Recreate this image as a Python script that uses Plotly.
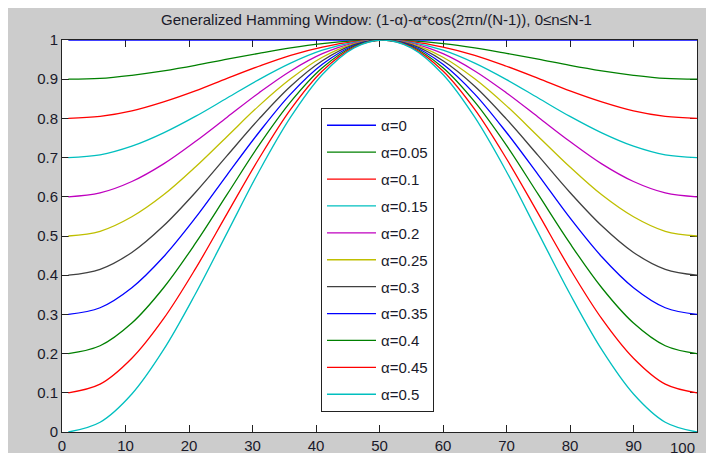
import plotly.graph_objects as go

# sample positions (n+1), window length 100
x_pos = [1, 6, 11, 16, 21, 26, 31, 36, 41, 46, 50.5, 55, 60, 65, 70, 75, 80, 85, 90, 95, 100]

alpha_labels = ["α=0", "α=0.05", "α=0.1", "α=0.15", "α=0.2", "α=0.25",
                "α=0.3", "α=0.35", "α=0.4", "α=0.45", "α=0.5"]

w_a000 = [1.000] * 21
w_a005 = [0.900, 0.902, 0.910, 0.921, 0.935, 0.951, 0.966, 0.980, 0.991, 0.998, 1.000,
          0.998, 0.991, 0.980, 0.966, 0.951, 0.935, 0.921, 0.910, 0.902, 0.900]
w_a010 = [0.800, 0.805, 0.819, 0.842, 0.870, 0.902, 0.933, 0.961, 0.982, 0.996, 1.000,
          0.996, 0.982, 0.961, 0.933, 0.902, 0.870, 0.842, 0.819, 0.805, 0.800]
w_a015 = [0.700, 0.707, 0.729, 0.763, 0.805, 0.852, 0.899, 0.941, 0.974, 0.994, 1.000,
          0.994, 0.974, 0.941, 0.899, 0.852, 0.805, 0.763, 0.729, 0.707, 0.700]
w_a020 = [0.600, 0.610, 0.639, 0.684, 0.741, 0.803, 0.865, 0.921, 0.965, 0.992, 1.000,
          0.992, 0.965, 0.921, 0.865, 0.803, 0.741, 0.684, 0.639, 0.610, 0.600]
w_a025 = [0.500, 0.512, 0.549, 0.605, 0.676, 0.754, 0.832, 0.901, 0.956, 0.990, 1.000,
          0.990, 0.956, 0.901, 0.832, 0.754, 0.676, 0.605, 0.549, 0.512, 0.500]
w_a030 = [0.400, 0.415, 0.458, 0.526, 0.611, 0.705, 0.798, 0.882, 0.947, 0.988, 1.000,
          0.988, 0.947, 0.882, 0.798, 0.705, 0.611, 0.526, 0.458, 0.415, 0.400]
w_a035 = [0.300, 0.317, 0.368, 0.447, 0.546, 0.656, 0.764, 0.862, 0.938, 0.986, 1.000,
          0.986, 0.938, 0.862, 0.764, 0.656, 0.546, 0.447, 0.368, 0.317, 0.300]
w_a040 = [0.200, 0.220, 0.278, 0.368, 0.481, 0.606, 0.731, 0.842, 0.929, 0.984, 1.000,
          0.984, 0.929, 0.842, 0.731, 0.606, 0.481, 0.368, 0.278, 0.220, 0.200]
w_a045 = [0.100, 0.122, 0.188, 0.289, 0.416, 0.557, 0.697, 0.823, 0.921, 0.982, 1.000,
          0.982, 0.921, 0.823, 0.697, 0.557, 0.416, 0.289, 0.188, 0.122, 0.100]
w_a050 = [0.000, 0.025, 0.097, 0.210, 0.352, 0.508, 0.664, 0.803, 0.912, 0.980, 1.000,
          0.980, 0.912, 0.803, 0.664, 0.508, 0.352, 0.210, 0.097, 0.025, 0.000]

series = [w_a000, w_a005, w_a010, w_a015, w_a020, w_a025,
          w_a030, w_a035, w_a040, w_a045, w_a050]

x_ticks = [0, 10, 20, 30, 40, 50, 60, 70, 80, 90, 100]
x_tick_text = ["0", "10", "20", "30", "40", "50", "60", "70", "80", "90", ""]
x_last_label = "100"
y_ticks = [0, 0.1, 0.2, 0.3, 0.4, 0.5, 0.6, 0.7, 0.8, 0.9, 1]
y_tick_text = ["0", "0.1", "0.2", "0.3", "0.4", "0.5", "0.6", "0.7", "0.8", "0.9", "1"]

colors = ["#0000ff", "#008000", "#ff0000", "#00bfbf", "#bf00bf", "#bfbf00",
          "#404040", "#0000ff", "#008000", "#ff0000", "#00bfbf"]

FONT = "Liberation Sans, Arial, sans-serif"
TXT = "#1a1a2a"

fig = go.Figure()
for i, (lab, ys) in enumerate(zip(alpha_labels, series)):
    fig.add_trace(go.Scatter(
        x=x_pos, y=ys, name=lab, mode="lines",
        line=dict(color=colors[i], width=1.3, shape="spline"),
        legendgroup=lab,
    ))

# the page body adds an 8px white border around the figure
OFF = 8
W, H = 714 - 2 * OFF, 461 - 2 * OFF
L, T = 62 - OFF, 40 - OFF
R, B = (714 - OFF) - 697, (461 - OFF) - 432
pw, ph = W - L - R, H - T - B

# last x tick label, kept inside the figure edge
fig.add_annotation(x=x_ticks[-1], xref="x", y=0, yref="paper",
                   text=x_last_label, showarrow=False,
                   xanchor="right", yanchor="top", xshift=0, yshift=-5,
                   font=dict(family=FONT, size=15, color=TXT))

fig.update_layout(
    width=W, height=H,
    margin=dict(l=L, r=R, t=T, b=B, pad=0),
    paper_bgcolor="#cccccc",
    plot_bgcolor="white",
    font=dict(family=FONT, size=15, color=TXT),
    showlegend=True,
    title=dict(
        text="Generalized Hamming Window: (1-α)-α*cos(2πn/(N-1)), 0≤n≤N-1",
        x=(376.5 - 62) / pw, xref="paper", xanchor="center",
        y=1 - (20 - OFF) / H, yref="container", yanchor="middle",
        font=dict(family=FONT, size=15, color=TXT),
    ),
    legend=dict(
        x=(321 - 62) / pw, y=(432 - 108) / ph, xanchor="left", yanchor="top",
        bgcolor="white", bordercolor="#222222", borderwidth=1,
        font=dict(family=FONT, size=15, color=TXT),
        tracegroupgap=4.4, itemwidth=49,
    ),
    xaxis=dict(
        range=[0, 100], tickvals=x_ticks, ticktext=x_tick_text,
        ticks="inside", ticklen=7, tickcolor="#222222",
        showline=True, linecolor="#222222", linewidth=1, mirror="ticks",
        showgrid=False, zeroline=False, layer="below traces", automargin=False,
        tickfont=dict(family=FONT, size=15, color=TXT),
    ),
    yaxis=dict(
        range=[0, 1], tickvals=y_ticks, ticktext=y_tick_text, ticks="inside", ticklen=7,
        tickcolor="#222222",
        showline=True, linecolor="#222222", linewidth=1, mirror="ticks",
        showgrid=False, zeroline=False, layer="below traces", automargin=False,
        tickfont=dict(family=FONT, size=15, color=TXT),
    ),
)

fig.write_html("out.html", config={"displayModeBar": False})
